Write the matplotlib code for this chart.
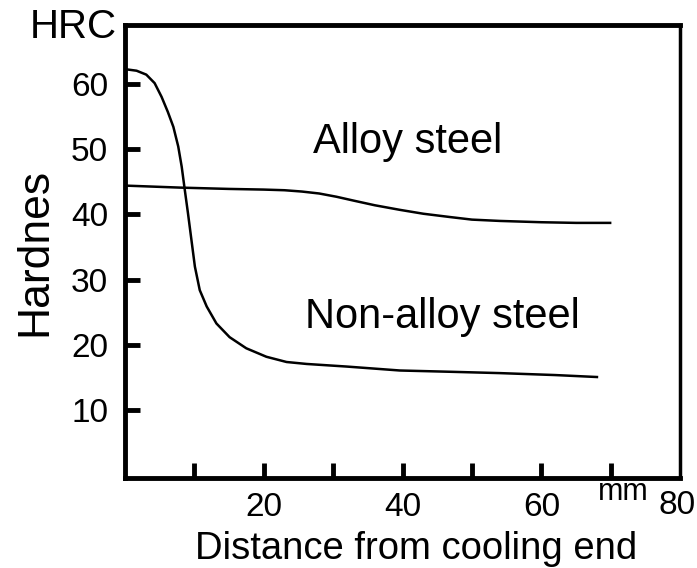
import matplotlib.pyplot as plt

plt.rcParams['font.family'] = ['Liberation Sans', 'DejaVu Sans']

# distance from cooling end (mm) vs hardness (HRC)
non_alloy_x = [0.3, 1.7, 3.1, 4.3, 5.3, 6.2, 7.0, 7.7, 8.2, 8.65, 9.1, 9.6, 10.1, 10.8, 11.8,
               13.2, 15.1, 17.5, 20.4, 23.3, 26.2, 32.0, 39.6, 47.0, 54.0, 62.0, 68.0]
non_alloy_y = [62.2, 62.0, 61.4, 60.1, 58.0, 55.7, 53.4, 50.4, 47.3, 43.7, 40.2, 36.1, 32.0, 28.4, 25.9,
               23.3, 21.2, 19.5, 18.2, 17.4, 17.1, 16.7, 16.1, 15.9, 15.7, 15.4, 15.1]

alloy_x = [0.3, 8.0, 15.0, 20.0, 23.0, 25.5, 28.0, 30.5, 33.0, 36.0, 39.6, 43.0, 46.8, 50.0, 54.0, 60.0, 65.0, 69.9]
alloy_y = [44.4, 44.1, 43.9, 43.8, 43.7, 43.5, 43.2, 42.7, 42.1, 41.4, 40.7, 40.1, 39.6, 39.2, 39.0, 38.8, 38.7, 38.7]

x_ticks = [10, 20, 30, 40, 50, 60, 70]
x_labels = ['', '20', '', '40', '', '60', '']
y_ticks = [10, 20, 30, 40, 50, 60]

fig = plt.figure(figsize=(6.97, 5.68), dpi=100)
ax = fig.add_axes([0.179, 0.158, 0.797, 0.798])

ax.plot(non_alloy_x, non_alloy_y, color='black', lw=1.8, solid_joinstyle='round')
ax.plot(alloy_x, alloy_y, color='black', lw=1.8, solid_joinstyle='round')

ax.set_xlim(0, 80)
ax.set_ylim(-0.4, 69)

ax.set_xticks(x_ticks)
ax.set_xticklabels(x_labels)
ax.set_yticks(y_ticks)
ax.tick_params(direction='in', length=11, width=3.5, labelsize=24, color='black')
ax.tick_params(axis='x', pad=10)
ax.tick_params(axis='y', pad=12)

for side in ['left', 'bottom', 'top']:
    ax.spines[side].set_linewidth(3.5)
ax.spines['right'].set_linewidth(2.5)

ax.text(40.8, 51.1, 'Alloy steel', fontsize=30, ha='center', va='center')
ax.text(45.8, 24.3, 'Non-alloy steel', fontsize=30, ha='center', va='center')

ax.text(71.8, -0.03, 'mm', fontsize=22, ha='center', va='center',
        transform=ax.get_xaxis_transform(), clip_on=False)
fig.text(696 / 697, 1 - 505 / 568, '80', fontsize=24, ha='right', va='center')

ax.set_xlabel('Distance from cooling end', fontsize=27.5, va='center')
ax.xaxis.set_label_coords(0.524, -0.155)
ax.set_ylabel('Hardnes', fontsize=32, va='center')
ax.yaxis.set_label_coords(-0.162, 0.5)

fig.text(73 / 697, 1 - 27 / 568, 'HRC', fontsize=29, ha='center', va='center')

fig.savefig('out.png', dpi=100)
